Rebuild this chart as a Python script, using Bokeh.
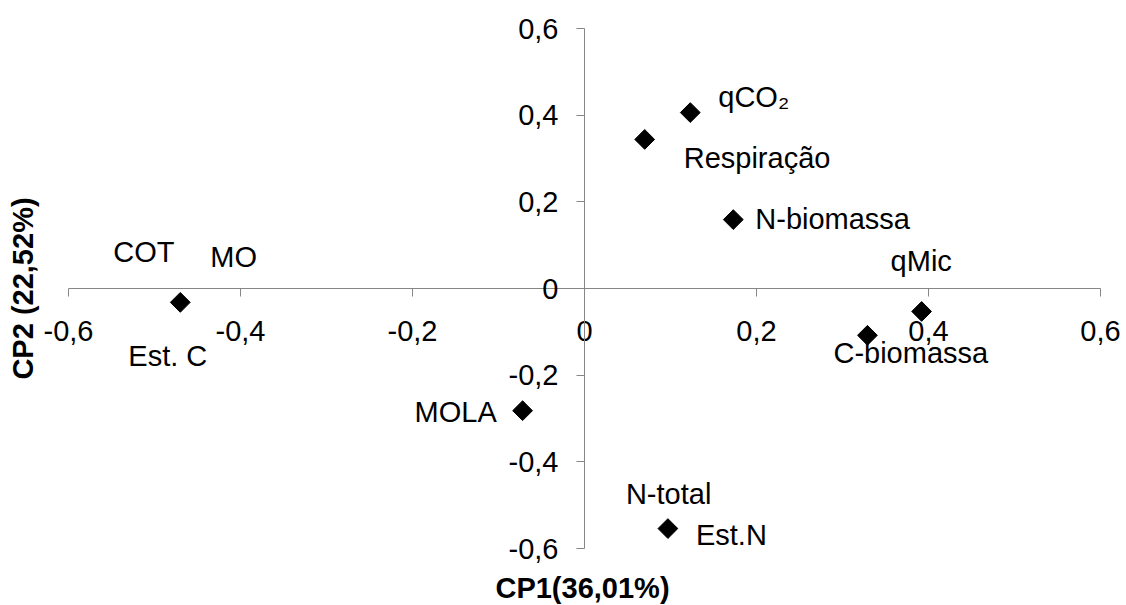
import math
from bokeh.plotting import figure
from bokeh.models import Range1d, FixedTicker, CustomJSTickFormatter, Label, ColumnDataSource
from bokeh.core.properties import value
from bokeh.embed import file_html
from bokeh.resources import INLINE

# --- data ---
point_names = ["COT/MO/Est. C", "qCO2", "Respiração", "N-biomassa", "qMic", "C-biomassa", "MOLA", "N-total/Est.N"]
cp1 = [-0.470, 0.123, 0.070, 0.173, 0.392, 0.329, -0.072, 0.097]
cp2 = [-0.032, 0.406, 0.344, 0.159, -0.053, -0.108, -0.282, -0.554]

label_texts = ["COT", "MO", "Est. C", "qCO₂", "Respiração", "N-biomassa", "qMic", "C-biomassa", "MOLA", "N-total", "Est.N"]
label_point = [0, 0, 0, 1, 2, 3, 4, 5, 6, 7, 7]

ticks = [-0.6, -0.4, -0.2, 0, 0.2, 0.4, 0.6]
x_title = "CP1(36,01%)"
y_title = "CP2 (22,52%)"

# --- label placement (pixel offsets, styling only) ---
label_dx = [-67, 30, -52, 28, 39, 22, -31, -34, -108, -42, 28]
label_dy = [-50, -45, 54, -16, 19, -1, -50, 18, 1, -35, 6]

FONT = "Liberation Sans"
FS = "29px"

W, H = 1126, 605
# plot area of the reference: x -0.6..0.6 at px 68..1100, y 0.6..-0.6 at px 28..548
px_per_x = (1100 - 68) / 1.2
px_per_y = (548 - 28) / 1.2
x_lo = -0.6 - 68 / px_per_x
x_hi = 0.6 + (W - 1100) / px_per_x
y_hi = 0.6 + 28 / px_per_y
y_lo = -0.6 - (H - 548) / px_per_y

p = figure(width=W, height=H, output_backend="svg", toolbar_location=None,
           x_range=Range1d(x_lo, x_hi), y_range=Range1d(y_lo, y_hi),
           min_border=0, min_border_left=0, min_border_right=0,
           min_border_top=0, min_border_bottom=0)
p.outline_line_color = None
p.xgrid.visible = False
p.ygrid.visible = False
p.background_fill_color = "white"
p.border_fill_color = "white"

fmt = CustomJSTickFormatter(code="""
if (Math.abs(tick) < 1e-9) { return "0"; }
return tick.toFixed(1).replace('.', ',');
""")

for ax in (p.xaxis, p.yaxis):
    ax.ticker = FixedTicker(ticks=ticks)
    ax.formatter = fmt
    ax.fixed_location = 0
    ax.bounds = (-0.6, 0.6)
    ax.axis_line_color = "#868686"
    ax.axis_line_width = 1
    ax.major_tick_line_color = "#868686"
    ax.major_tick_out = 8
    ax.major_tick_in = 0
    ax.minor_tick_line_color = None
    ax.major_label_text_font = FONT
    ax.major_label_text_font_size = FS
    ax.major_label_text_color = "black"
p.xaxis.major_label_standoff = 24
p.yaxis.major_label_standoff = 18

p.scatter(x=cp1, y=cp2, marker="square", angle=math.pi / 4, size=14,
          fill_color="black", line_color="black")

src = ColumnDataSource(dict(
    x=[cp1[i] for i in label_point],
    y=[cp2[i] for i in label_point],
    text=label_texts,
    dx=label_dx,
    dy=label_dy,
))
p.text(x="x", y="y", text="text", x_offset="dx", y_offset="dy", source=src,
       text_font=value(FONT), text_font_size=FS, text_align="left",
       text_baseline="middle", text_color="black")

p.add_layout(Label(x=582, y=H - 587, x_units="screen", y_units="screen", text=x_title,
                   text_font=FONT, text_font_size=FS, text_font_style="bold", text_color="black",
                   text_align="center", text_baseline="middle"))
p.add_layout(Label(x=22, y=H - 288, x_units="screen", y_units="screen", text=y_title,
                   angle=math.pi / 2, text_font=FONT, text_font_size=FS, text_font_style="bold",
                   text_color="black", text_align="center", text_baseline="middle"))

open("out.html", "w").write(file_html(p, INLINE))
